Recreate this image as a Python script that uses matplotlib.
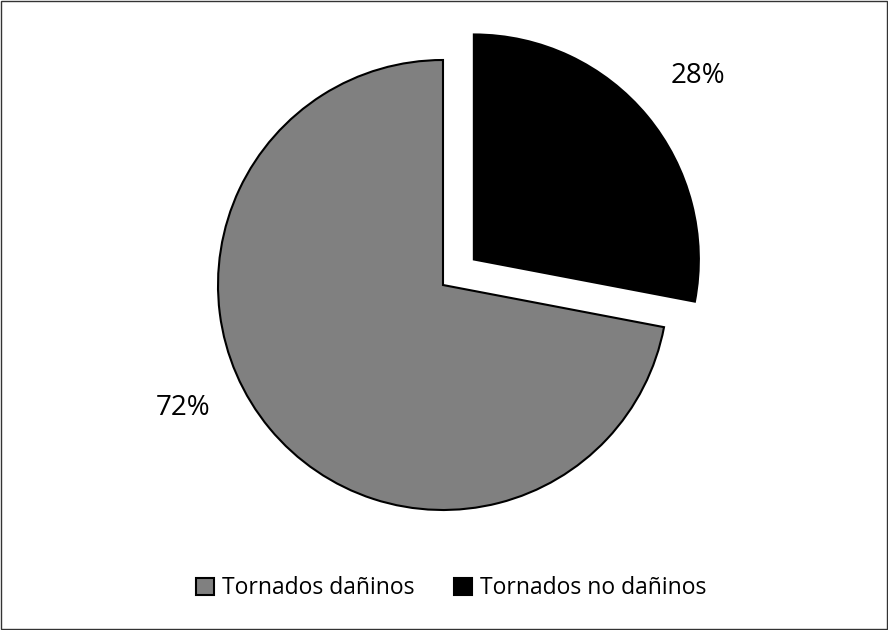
import matplotlib.pyplot as plt
from matplotlib.patches import Rectangle

plt.rcParams['font.family'] = ['Open Sans', 'DejaVu Sans']

categorias = ['Tornados dañinos', 'Tornados no dañinos']
porcentajes = [72, 28]
colores = ['#808080', '#000000']
etiquetas = ['72%', '28%']

fig = plt.figure(figsize=(8.88, 6.3), dpi=100)
ax = fig.add_axes([0, 0, 1, 1])

wedges, _ = ax.pie(porcentajes, colors=colores, startangle=90,
                   explode=[0, 0.178], radius=1,
                   wedgeprops={'edgecolor': 'black', 'linewidth': 1.5})

# label positions (data units, radius = 1)
ax.text(-1.156, -0.547, etiquetas[0], fontsize=20, ha='center', va='center')
ax.text(1.133, 0.929, etiquetas[1], fontsize=20, ha='center', va='center')

ax.set_xlim(-443 / 225, 445 / 225)
ax.set_ylim(-345 / 225, 285 / 225)
ax.set_aspect('equal')
ax.axis('off')

fig.legend(wedges, categorias, loc='center', bbox_to_anchor=(0.508, 0.066),
           ncol=2, frameon=False, fontsize=16.5, handlelength=0.8,
           handleheight=0.8, handletextpad=0.35, columnspacing=1.7)

fig.patches.append(Rectangle((0.001, 0.001), 0.998, 0.997, transform=fig.transFigure,
                             fill=False, edgecolor='#333333', linewidth=1))

plt.savefig('out.png')
